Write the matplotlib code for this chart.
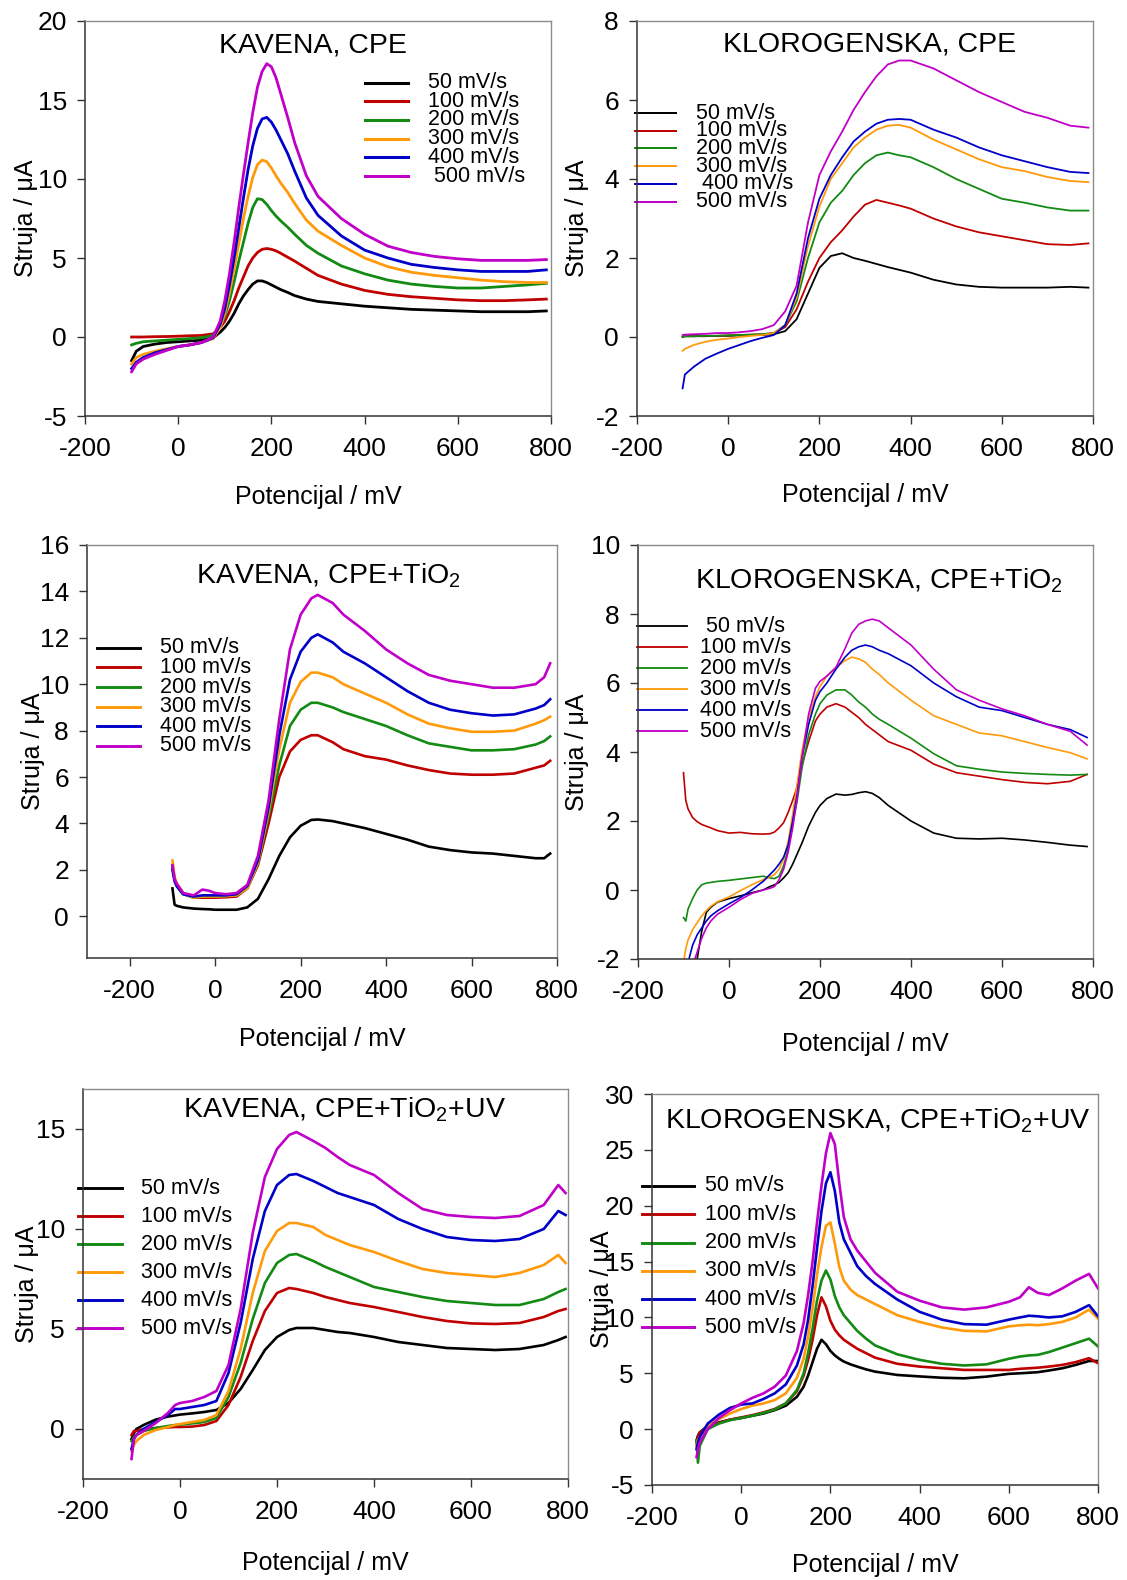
"""Cyclic voltammetry panels: caffeic and chlorogenic acid on CPE, CPE+TiO2, CPE+TiO2+UV."""
import matplotlib
matplotlib.use("Agg")
import matplotlib.pyplot as plt

plt.rcParams["font.family"] = ["Liberation Sans", "DejaVu Sans"]
plt.rcParams["axes.unicode_minus"] = False

W, H = 1127, 1580

rates = ["50 mV/s", "100 mV/s", "200 mV/s", "300 mV/s", "400 mV/s", "500 mV/s"]
colors = ["#000000", "#c00000", "#138a13", "#ff9a0a", "#0000c8", "#c000c8"]

# KAVENA, CPE
kav_cpe_x = [-100, -90, -75, -50, -25, 0, 25, 50, 75, 90, 100, 110, 120, 130, 140,
             150, 160, 170, 180, 190, 200, 210, 220, 235, 250, 275, 300, 350, 400,
             450, 500, 550, 600, 650, 700, 750, 790]
kav_cpe_y = [
    [-1.5, -0.9, -0.6, -0.45, -0.35, -0.3, -0.25, -0.2, -0.05, 0.3, 0.6, 1.0, 1.5, 2.1, 2.6,
     3.0, 3.35, 3.55, 3.55, 3.45, 3.3, 3.15, 3.0, 2.82, 2.62, 2.4, 2.25, 2.1, 1.95,
     1.85, 1.75, 1.7, 1.65, 1.6, 1.6, 1.6, 1.65],
    [0.0, 0.0, 0.0, 0.02, 0.03, 0.05, 0.08, 0.1, 0.2, 0.6, 1.0, 1.6, 2.3, 3.1, 3.8,
     4.5, 5.0, 5.35, 5.55, 5.6, 5.55, 5.45, 5.3, 5.05, 4.8, 4.35, 3.9, 3.35, 2.95,
     2.7, 2.55, 2.45, 2.35, 2.3, 2.3, 2.35, 2.4],
    [-0.5, -0.4, -0.3, -0.25, -0.2, -0.15, -0.1, -0.05, 0.1, 0.7, 1.3, 2.3, 3.5, 4.8, 6.0,
     7.2, 8.2, 8.75, 8.7, 8.4, 8.0, 7.65, 7.35, 6.95, 6.5, 5.8, 5.3, 4.5, 4.0,
     3.6, 3.35, 3.2, 3.1, 3.1, 3.2, 3.3, 3.4],
    [-1.7, -1.3, -1.1, -0.9, -0.75, -0.6, -0.5, -0.35, -0.1, 0.6, 1.5, 2.8, 4.3, 5.9, 7.5,
     8.9, 10.1, 10.9, 11.2, 11.1, 10.7, 10.2, 9.75, 9.15, 8.45, 7.4, 6.7, 5.8, 5.0,
     4.45, 4.1, 3.9, 3.75, 3.6, 3.5, 3.45, 3.45],
    [-2.0, -1.6, -1.3, -1.0, -0.8, -0.6, -0.5, -0.35, -0.05, 0.8, 1.8, 3.3, 5.0, 6.9, 8.8,
     10.6, 12.1, 13.2, 13.8, 13.9, 13.6, 13.1, 12.5, 11.6, 10.5, 8.8, 7.7, 6.4, 5.5,
     5.0, 4.6, 4.4, 4.25, 4.15, 4.15, 4.15, 4.25],
    [-2.2, -1.7, -1.4, -1.1, -0.85, -0.6, -0.5, -0.35, 0.0, 1.0, 2.3, 4.0, 6.0, 8.2, 10.3,
     12.3, 14.2, 15.8, 16.8, 17.3, 17.1, 16.4, 15.4, 13.9, 12.3, 10.2, 8.9, 7.5, 6.5,
     5.75, 5.35, 5.1, 4.95, 4.85, 4.85, 4.85, 4.9],
]

# KLOROGENSKA, CPE
klo_cpe_x = [-100, -95, -75, -50, -25, 0, 25, 50, 75, 100, 125, 150, 175, 200, 225,
             250, 275, 300, 325, 350, 375, 400, 450, 500, 550, 600, 650, 700, 750, 790]
klo_cpe_y = [
    [0.0, 0.02, 0.02, 0.02, 0.03, 0.03, 0.04, 0.05, 0.05, 0.07, 0.15, 0.45, 1.1, 1.75, 2.05,
     2.12, 2.0, 1.93, 1.85, 1.77, 1.7, 1.63, 1.45, 1.33, 1.27, 1.25, 1.25, 1.25, 1.27, 1.25],
    [0.0, 0.02, 0.02, 0.03, 0.03, 0.04, 0.05, 0.06, 0.07, 0.1, 0.25, 0.7, 1.4, 2.0, 2.4,
     2.7, 3.05, 3.35, 3.47, 3.4, 3.33, 3.25, 3.0, 2.8, 2.65, 2.55, 2.45, 2.35, 2.33, 2.37],
    [0.0, 0.02, 0.02, 0.03, 0.03, 0.04, 0.05, 0.06, 0.07, 0.1, 0.3, 0.9, 2.0, 2.9, 3.4,
     3.7, 4.1, 4.4, 4.6, 4.67, 4.6, 4.55, 4.3, 4.0, 3.75, 3.5, 3.4, 3.28, 3.2, 3.2],
    [-0.35, -0.3, -0.2, -0.12, -0.07, -0.04, 0.0, 0.03, 0.05, 0.1, 0.3, 1.0, 2.3, 3.3, 4.0,
     4.4, 4.8, 5.05, 5.25, 5.35, 5.37, 5.3, 5.0, 4.75, 4.5, 4.3, 4.2, 4.05, 3.95, 3.92],
    [-1.3, -0.95, -0.75, -0.55, -0.42, -0.3, -0.2, -0.1, -0.02, 0.05, 0.3, 1.1, 2.5, 3.5, 4.1,
     4.55, 4.95, 5.2, 5.4, 5.5, 5.52, 5.5, 5.25, 5.05, 4.8, 4.6, 4.45, 4.3, 4.18, 4.15],
    [0.05, 0.06, 0.07, 0.08, 0.1, 0.1, 0.12, 0.15, 0.2, 0.3, 0.65, 1.3, 2.9, 4.1, 4.7,
     5.2, 5.75, 6.2, 6.6, 6.9, 7.0, 7.0, 6.8, 6.5, 6.2, 5.95, 5.7, 5.55, 5.35, 5.3],
]

# KAVENA, CPE+TiO2
kav_tio_x = [-100, -95, -90, -75, -50, -30, -15, 0, 25, 50, 75, 100, 125, 150, 175,
             200, 225, 240, 275, 300, 350, 400, 450, 500, 550, 600, 650, 700, 750, 770, 784]
kav_tio_y = [
    [1.2, 0.5, 0.45, 0.38, 0.33, 0.31, 0.3, 0.28, 0.28, 0.28, 0.38, 0.75, 1.6, 2.6, 3.4,
     3.9, 4.15, 4.17, 4.1, 4.0, 3.8, 3.55, 3.3, 3.0, 2.85, 2.75, 2.7, 2.6, 2.5, 2.5, 2.7],
    [2.1, 1.6, 1.4, 1.0, 0.8, 0.8, 0.8, 0.8, 0.82, 0.85, 1.2, 2.2, 4.0, 6.0, 7.1,
     7.6, 7.8, 7.8, 7.5, 7.2, 6.9, 6.75, 6.5, 6.3, 6.15, 6.1, 6.1, 6.15, 6.4, 6.5, 6.7],
    [2.2, 1.6, 1.3, 0.95, 0.8, 0.85, 0.85, 0.85, 0.87, 0.9, 1.2, 2.3, 4.3, 6.5, 8.2,
     8.9, 9.2, 9.2, 9.0, 8.8, 8.5, 8.2, 7.8, 7.45, 7.3, 7.15, 7.15, 7.2, 7.4, 7.55, 7.75],
    [2.4, 1.7, 1.4, 1.0, 0.8, 0.85, 0.85, 0.85, 0.87, 0.9, 1.2, 2.3, 4.5, 7.2, 9.2,
     10.1, 10.5, 10.5, 10.3, 10.0, 9.6, 9.2, 8.7, 8.3, 8.1, 7.95, 7.95, 8.0, 8.3, 8.45, 8.6],
    [2.0, 1.5, 1.3, 0.95, 0.85, 0.9, 0.9, 0.9, 0.9, 0.95, 1.3, 2.4, 4.7, 7.8, 10.2,
     11.4, 12.0, 12.15, 11.8, 11.4, 10.9, 10.3, 9.7, 9.2, 8.9, 8.75, 8.65, 8.7, 8.95, 9.1, 9.35],
    [2.2, 1.6, 1.4, 1.0, 0.9, 1.15, 1.1, 1.0, 0.95, 1.0, 1.35, 2.6, 5.0, 8.5, 11.5,
     13.0, 13.7, 13.85, 13.5, 13.0, 12.3, 11.5, 10.9, 10.4, 10.15, 10.0, 9.85, 9.85, 10.0, 10.3, 10.9],
]

# KLOROGENSKA, CPE+TiO2
klo_tio_x = [-100, -95, -90, -80, -70, -60, -50, -40, -25, 0, 25, 50, 75, 90, 100,
             110, 120, 130, 140, 150, 160, 175, 190, 200, 215, 235, 255, 270, 285, 300,
             315, 330, 350, 400, 450, 500, 550, 600, 650, 700, 750, 787]
klo_tio_y = [
    [-4.0, -3.7, -3.3, -2.6, -2.0, -1.2, -0.65, -0.5, -0.35, -0.25, -0.17, -0.08, 0.0, 0.1, 0.15,
     0.22, 0.35, 0.5, 0.75, 1.05, 1.35, 1.85, 2.25, 2.45, 2.65, 2.78, 2.75, 2.77, 2.82, 2.85,
     2.8, 2.68, 2.45, 2.0, 1.65, 1.5, 1.48, 1.5, 1.45, 1.38, 1.3, 1.26],
    [3.4, 2.6, 2.35, 2.1, 1.98, 1.9, 1.85, 1.8, 1.72, 1.65, 1.67, 1.63, 1.62, 1.63, 1.68,
     1.8, 1.95, 2.25, 2.6, 3.0, 3.6, 4.3, 4.9, 5.1, 5.3, 5.4, 5.3, 5.15, 5.0, 4.8,
     4.65, 4.5, 4.3, 4.05, 3.65, 3.4, 3.3, 3.2, 3.12, 3.08, 3.15, 3.35],
    [-0.8, -0.9, -0.55, -0.25, 0.0, 0.15, 0.2, 0.22, 0.25, 0.28, 0.32, 0.36, 0.4, 0.35, 0.33,
     0.4, 0.7, 1.2, 1.9, 2.6, 3.5, 4.5, 5.1, 5.4, 5.65, 5.8, 5.8, 5.65, 5.45, 5.3,
     5.1, 4.95, 4.8, 4.4, 3.95, 3.6, 3.5, 3.42, 3.38, 3.35, 3.33, 3.35],
    [-2.1, -1.7, -1.45, -1.15, -0.95, -0.75, -0.6, -0.47, -0.34, -0.2, -0.02, 0.15, 0.3, 0.38, 0.45,
     0.6, 0.9, 1.4, 2.2, 3.1, 4.0, 5.0, 5.6, 5.9, 6.2, 6.45, 6.65, 6.75, 6.7, 6.6,
     6.4, 6.25, 6.0, 5.5, 5.05, 4.8, 4.55, 4.47, 4.3, 4.13, 3.98, 3.8],
    [-2.8, -2.4, -2.1, -1.6, -1.3, -1.1, -0.9, -0.75, -0.6, -0.4, -0.22, 0.0, 0.25, 0.45, 0.58,
     0.75, 0.95, 1.3, 2.0, 2.8, 3.8, 4.8, 5.5, 5.75, 6.0, 6.4, 6.75, 6.95, 7.05, 7.1,
     7.05, 6.95, 6.85, 6.5, 6.0, 5.6, 5.3, 5.2, 5.0, 4.8, 4.65, 4.42],
    [-3.2, -2.8, -2.5, -2.2, -1.8, -1.4, -1.1, -0.9, -0.7, -0.5, -0.28, -0.1, 0.0, 0.05, 0.1,
     0.3, 0.6, 1.1, 1.8, 2.7, 3.8, 5.1, 5.85, 6.05, 6.2, 6.45, 7.0, 7.45, 7.7, 7.8,
     7.85, 7.8, 7.6, 7.1, 6.4, 5.8, 5.5, 5.25, 5.05, 4.8, 4.6, 4.2],
]

# KAVENA, CPE+TiO2+UV
kav_uv_x = [-100, -95, -90, -75, -50, -25, -10, 0, 25, 50, 75, 100, 125, 150, 175,
            200, 225, 240, 275, 300, 325, 350, 400, 450, 500, 550, 600, 650, 700, 750, 780, 795]
kav_uv_y = [
    [-0.5, -0.2, 0.0, 0.2, 0.47, 0.62, 0.68, 0.72, 0.78, 0.85, 0.95, 1.3, 2.0, 2.95, 3.95,
     4.6, 4.95, 5.05, 5.05, 4.95, 4.85, 4.8, 4.6, 4.35, 4.2, 4.05, 4.0, 3.95, 4.0, 4.2, 4.45, 4.6],
    [-0.3, -0.1, -0.1, 0.0, 0.05, 0.08, 0.1, 0.1, 0.12, 0.2, 0.4, 1.2, 2.6, 4.4, 5.9,
     6.8, 7.05, 7.0, 6.8, 6.6, 6.45, 6.3, 6.1, 5.85, 5.6, 5.4, 5.28, 5.25, 5.3, 5.6, 5.9, 6.0],
    [-0.6, -0.4, -0.3, -0.1, 0.05, 0.15, 0.2, 0.22, 0.28, 0.35, 0.55, 1.6, 3.3, 5.5, 7.3,
     8.3, 8.7, 8.75, 8.4, 8.1, 7.85, 7.6, 7.1, 6.85, 6.6, 6.4, 6.3, 6.2, 6.2, 6.5, 6.85, 7.0],
    [-1.1, -0.8, -0.6, -0.3, -0.05, 0.1, 0.2, 0.25, 0.35, 0.45, 0.7, 1.9, 4.0, 6.8, 8.9,
     9.9, 10.3, 10.3, 10.1, 9.7, 9.45, 9.2, 8.85, 8.4, 8.0, 7.8, 7.7, 7.6, 7.8, 8.2, 8.7, 8.3],
    [-1.0, -0.5, -0.3, 0.0, 0.35, 0.7, 1.0, 1.0, 1.1, 1.2, 1.4, 2.8, 5.3, 8.5, 10.9,
     12.2, 12.7, 12.75, 12.4, 12.1, 11.8, 11.6, 11.2, 10.5, 10.0, 9.6, 9.45, 9.4, 9.5, 10.0, 10.9, 10.7],
    [-1.5, -0.5, -0.3, -0.1, 0.3, 0.8, 1.2, 1.3, 1.4, 1.6, 1.9, 3.2, 6.0, 9.8, 12.6,
     14.0, 14.7, 14.85, 14.4, 14.05, 13.6, 13.2, 12.7, 11.8, 11.0, 10.7, 10.6, 10.55, 10.65, 11.2, 12.2, 11.8],
]

# KLOROGENSKA, CPE+TiO2+UV
klo_uv_x = [-100, -97, -93, -75, -50, -25, 0, 25, 50, 75, 100, 125, 140, 150, 160,
            170, 180, 190, 200, 210, 220, 230, 245, 260, 280, 300, 350, 400, 450, 500,
            550, 600, 625, 645, 665, 690, 720, 750, 780, 800]
klo_uv_y = [
    [-1.0, -0.6, -0.3, 0.3, 0.6, 0.85, 1.0, 1.2, 1.4, 1.7, 2.1, 2.9, 3.8, 4.8, 6.0,
     7.2, 8.0, 7.6, 7.0, 6.6, 6.3, 6.05, 5.8, 5.6, 5.35, 5.15, 4.85, 4.72, 4.6, 4.55,
     4.7, 4.95, 5.0, 5.05, 5.1, 5.25, 5.45, 5.75, 6.1, 6.1],
    [-1.2, -0.7, -0.3, 0.2, 0.55, 0.85, 1.05, 1.25, 1.5, 1.8, 2.3, 3.4, 4.8, 6.2, 8.0,
     10.2, 11.8, 11.0, 9.7, 8.9, 8.4, 8.0, 7.6, 7.2, 6.8, 6.4, 5.85, 5.6, 5.45, 5.3,
     5.3, 5.3, 5.4, 5.45, 5.5, 5.6, 5.75, 6.0, 6.35, 5.9],
    [-1.0, -3.0, -1.5, 0.0, 0.5, 0.8, 1.0, 1.2, 1.45, 1.75, 2.3, 3.5, 5.0, 6.8, 9.0,
     11.5, 13.3, 14.2, 13.4, 11.9, 10.9, 10.2, 9.5, 8.8, 8.1, 7.5, 6.7, 6.2, 5.85, 5.7,
     5.8, 6.3, 6.5, 6.6, 6.65, 6.9, 7.3, 7.7, 8.1, 7.4],
    [-1.5, -1.0, -0.7, 0.3, 0.9, 1.4, 1.8, 2.1, 2.3, 2.6, 3.2, 4.6, 6.3, 8.3, 10.8,
     13.8, 16.3, 18.2, 18.5, 16.6, 14.5, 13.3, 12.5, 12.0, 11.6, 11.2, 10.2, 9.6, 9.1, 8.8,
     8.75, 9.2, 9.3, 9.35, 9.3, 9.4, 9.6, 10.0, 10.7, 9.9],
    [-1.8, -1.2, -0.7, 0.5, 1.3, 1.9, 2.2, 2.3, 2.7, 3.2, 4.0, 5.7, 7.6, 9.8, 12.8,
     16.2, 19.5, 22.0, 23.0, 21.3, 18.5, 17.0, 15.8, 14.6, 13.7, 13.0, 11.6, 10.5, 9.8, 9.4,
     9.35, 9.8, 10.0, 10.15, 10.1, 10.0, 10.1, 10.5, 11.1, 10.1],
    [-2.5, -1.8, -1.2, 0.0, 1.0, 1.7, 2.3, 2.8, 3.2, 3.8, 4.8, 7.0, 9.5, 12.0, 15.0,
     18.5, 21.8, 24.7, 26.5, 25.5, 22.0, 19.0, 17.0, 16.0, 15.0, 14.0, 12.3, 11.5, 10.9, 10.7,
     10.9, 11.4, 11.8, 12.7, 12.2, 12.0, 12.6, 13.3, 13.9, 12.6],
]

# rect is (left, top, width, height) in output pixels; key is
# (line start, line end, text x, first row y, row step) in axes fraction
panels = [
    dict(x=kav_cpe_x, y=kav_cpe_y, rect=(85, 21, 466, 395), title="KAVENA, CPE",
         tpos=(0.49, 0.919), xlim=(-200, 800), ylim=(-5, 20), yticks=range(-5, 21, 5),
         lw=2.0, key=(0.601, 0.693, 0.736, 0.844, 0.0473),
         keylab=rates[:5] + [" 500 mV/s"], ylab=-0.127, xlab=-0.205),
    dict(x=klo_cpe_x, y=klo_cpe_y, rect=(637, 21, 456, 395), title="KLOROGENSKA, CPE",
         tpos=(0.51, 0.922), xlim=(-200, 800), ylim=(-2, 8), yticks=range(-2, 9, 2),
         lw=1.3, key=(-0.004, 0.086, 0.129, 0.767, 0.0448),
         keylab=rates[:4] + [" 400 mV/s", "500 mV/s"], ylab=-0.132, xlab=-0.200),
    dict(x=kav_tio_x, y=kav_tio_y, rect=(87, 545, 470, 413),
         title="KAVENA, CPE+TiO$_\\mathregular{2}$",
         tpos=(0.513, 0.908), xlim=(-300, 800), ylim=(-1.8, 16), yticks=range(0, 17, 2),
         lw=1.9, key=(0.021, 0.113, 0.155, 0.751, 0.0475),
         keylab=rates, ylab=-0.115, xlab=-0.196),
    dict(x=klo_tio_x, y=klo_tio_y, rect=(638, 545, 455, 414),
         title="KLOROGENSKA, CPE+TiO$_\\mathregular{2}$",
         tpos=(0.53, 0.896), xlim=(-200, 800), ylim=(-2, 10), yticks=range(-2, 11, 2),
         lw=1.2, key=(-0.002, 0.108, 0.136, 0.804, 0.0507),
         keylab=[" 50 mV/s"] + rates[1:], ylab=-0.134, xlab=-0.205),
    dict(x=kav_uv_x, y=kav_uv_y, rect=(83, 1089, 485, 390),
         title="KAVENA, CPE+TiO$_\\mathregular{2}$+UV",
         tpos=(0.54, 0.928), xlim=(-200, 800), ylim=(-2.5, 17), yticks=range(0, 16, 5),
         lw=1.9, key=(-0.010, 0.080, 0.120, 0.746, 0.0718),
         keylab=rates, ylab=-0.115, xlab=-0.216),
    dict(x=klo_uv_x, y=klo_uv_y, rect=(652, 1094, 446, 391),
         title="KLOROGENSKA, CPE+TiO$_\\mathregular{2}$+UV",
         tpos=(0.507, 0.913), xlim=(-200, 800), ylim=(-5, 30), yticks=range(-5, 31, 5),
         lw=1.9, key=(-0.022, 0.094, 0.119, 0.765, 0.0724),
         keylab=rates, ylab=-0.112, xlab=-0.205),
]

fig = plt.figure(figsize=(W / 100, H / 100), dpi=100)

for p in panels:
    left, top, w, h = p["rect"]
    ax = fig.add_axes([left / W, 1 - (top + h) / H, w / W, h / H])
    for ys, c in zip(p["y"], colors):
        ax.plot(p["x"], ys, color=c, lw=p["lw"], solid_joinstyle="round")

    ax.set_xlim(*p["xlim"])
    ax.set_ylim(*p["ylim"])
    ax.set_xticks(range(-200, 801, 200))
    ax.set_yticks(list(p["yticks"]))
    ax.tick_params(direction="out", length=6, width=1, labelsize=19, color="#333333")
    ax.tick_params(axis="x", pad=9)
    ax.tick_params(axis="y", pad=7)
    for side in ("left", "bottom"):
        ax.spines[side].set_color("#333333")
        ax.spines[side].set_linewidth(1.1)
    for side in ("top", "right"):
        ax.spines[side].set_color("#8c8c8c")
        ax.spines[side].set_linewidth(1.0)

    ax.set_xlabel("Potencijal / mV", fontsize=18)
    ax.xaxis.set_label_coords(0.5, p["xlab"])
    ax.xaxis.label.set_va("center")
    ax.set_ylabel("Struja / μA", fontsize=18)
    ax.yaxis.set_label_coords(p["ylab"], 0.5)
    ax.yaxis.label.set_va("center")

    tx, ty = p["tpos"]
    ax.text(tx, ty, p["title"], transform=ax.transAxes, ha="center",
            va="baseline", fontsize=20.5)

    # hand-placed key, rows packed tighter than ax.legend allows
    x0, x1, xt, y0, dy = p["key"]
    for i, (lab, c) in enumerate(zip(p["keylab"], colors)):
        yy = y0 - i * dy
        ax.plot([x0, x1], [yy, yy], color=c, lw=p["lw"] * 1.1,
                transform=ax.transAxes, clip_on=False)
        ax.text(xt, yy, lab, transform=ax.transAxes, ha="left", va="center",
                fontsize=15.5)

fig.savefig("out.png", dpi=100)
print("wrote out.png")
